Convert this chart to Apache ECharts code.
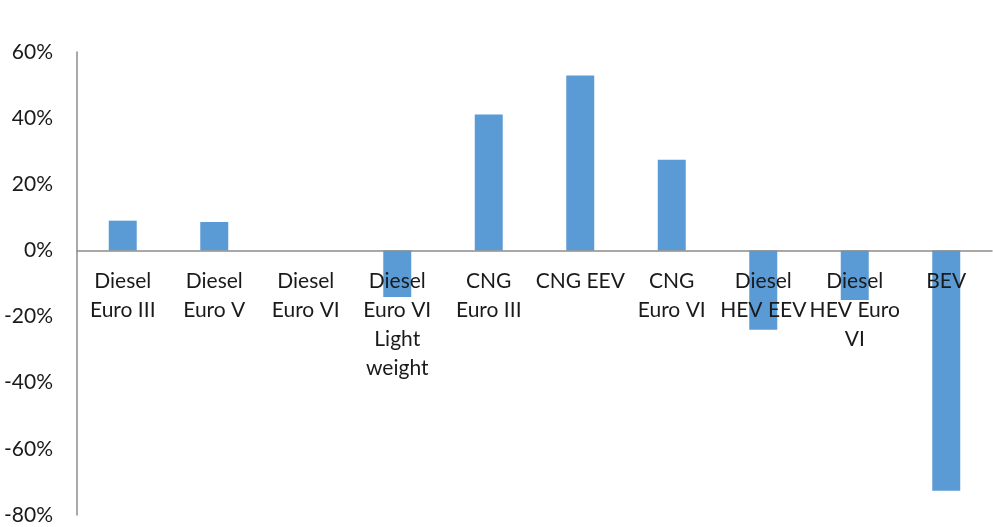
<!DOCTYPE html>
<html>
<head>
<meta charset="utf-8">
<script src="https://cdn.jsdelivr.net/npm/echarts@6/dist/echarts.min.js"></script>
<style>
  html, body { margin: 0; padding: 0; background: #fff; }
  #chart { width: 993px; height: 527px; }
</style>
</head>
<body>
<div id="chart"></div>
<script>
// Vehicle technologies (x axis) and their relative change (%)
const categories = [
  'Diesel\nEuro III',
  'Diesel\nEuro V',
  'Diesel\nEuro VI',
  'Diesel\nEuro VI\nLight\nweight',
  'CNG\nEuro III',
  'CNG EEV',
  'CNG\nEuro VI',
  'Diesel\nHEV EEV',
  'Diesel\nHEV Euro\nVI',
  'BEV'
];
const changePct = [9.0, 8.6, 0, -14.1, 41.1, 52.9, 27.4, -24.0, -15.0, -72.7];
const yTicks = { min: -80, max: 60, step: 20 };

const W = 993, H = 527;
const gridBox = { left: 77, right: 1, top: 52, bottom: 12 };
const plotH = H - gridBox.top - gridBox.bottom;
// lift the category axis (line + labels) from the bottom edge up to the zero line
const zeroOffset = -plotH * (0 - yTicks.min) / (yTicks.max - yTicks.min);

const chart = echarts.init(document.getElementById('chart'), null, { renderer: 'canvas' });
chart.setOption({
  animation: false,
  textStyle: { fontFamily: 'Lato, "DejaVu Sans", sans-serif' },
  grid: Object.assign({ containLabel: false, outerBoundsMode: 'none' }, gridBox),
  xAxis: {
    type: 'category',
    data: categories,
    position: 'bottom',
    offset: zeroOffset,
    z: 5,
    axisLine: { onZero: false, lineStyle: { color: '#8c8c8c', width: 1.5 } },
    axisTick: { show: false },
    axisLabel: {
      interval: 0,
      margin: 16,
      color: '#1a1a1a',
      fontSize: 21,
      lineHeight: 29,
      fontFamily: 'Lato, sans-serif'
    }
  },
  yAxis: {
    type: 'value',
    min: yTicks.min,
    max: yTicks.max,
    interval: yTicks.step,
    axisLine: { show: true, lineStyle: { color: '#8c8c8c', width: 1.5 } },
    axisTick: { show: false },
    splitLine: { show: false },
    axisLabel: {
      margin: 24,
      color: '#1a1a1a',
      fontSize: 21,
      fontFamily: 'Lato, sans-serif',
      formatter: v => v + '%'
    }
  },
  series: [{
    type: 'bar',
    data: changePct,
    barWidth: 28,
    itemStyle: { color: '#5b9bd5' }
  }]
});
</script>
</body>
</html>
